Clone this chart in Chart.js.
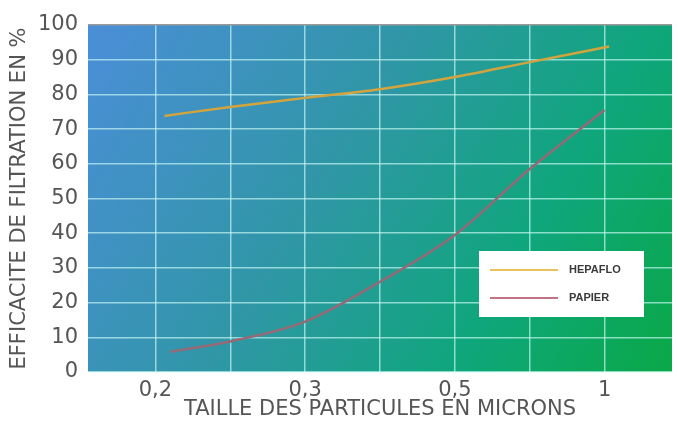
<!DOCTYPE html>
<html>
<head>
<meta charset="utf-8">
<script src="https://cdn.jsdelivr.net/npm/chart.js@4"></script>
<style>
  body { margin: 0; background: #fff; }
  #wrap { width: 678px; height: 425px; }
</style>
</head>
<body>
<div id="wrap"><canvas id="chart"></canvas></div>
<script>
// particle sizes shown on the x axis (evenly spaced, not to scale)
const sizeLabels = ['0,2', '0,3', '0,5', '1'];

// curves, x given as position along the size labels
const hepafloPos = [0.06, 0.5, 1.0, 1.5, 2.0, 2.5, 3.03];
const hepafloVals = [73.8, 76.4, 79, 81.5, 85, 89.3, 93.8];

const papierPos = [0.1, 0.5, 1.0, 1.5, 2.0, 2.5, 3.0];
const papierVals = [5.8, 8.8, 14.5, 26, 39.5, 58.5, 75.5];

const yTicks = [0, 10, 20, 30, 40, 50, 60, 70, 80, 90, 100];

const toPoints = (xs, ys) => xs.map((x, i) => ({ x: x, y: ys[i] }));

// gradient fill behind the plot
const bgPlugin = {
  id: 'bg',
  beforeDraw(chart) {
    const { ctx, chartArea: a } = chart;
    const g = ctx.createLinearGradient(a.left, a.top, a.right, a.bottom);
    g.addColorStop(0, '#4b8ed8');
    g.addColorStop(0.4, '#3196a8');
    g.addColorStop(0.72, '#0fa67c');
    g.addColorStop(1, '#0aa847');
    ctx.save();
    ctx.fillStyle = g;
    ctx.fillRect(a.left, a.top, a.right - a.left, a.bottom - a.top);
    ctx.restore();
  }
};

// white legend box inside the plot
const boxLegend = {
  id: 'boxLegend',
  afterDatasetsDraw(chart) {
    const { ctx, chartArea: a } = chart;
    const x = a.right - 193, y = a.top + 226, w = 165, h = 66;
    ctx.save();
    ctx.fillStyle = '#ffffff';
    ctx.fillRect(x, y, w, h);
    ctx.font = 'bold 11px "Liberation Sans", Arial, sans-serif';
    ctx.textBaseline = 'middle';
    chart.data.datasets.forEach((ds, i) => {
      const ly = y + 19 + i * 28;
      ctx.strokeStyle = ds.legendColor;
      ctx.lineWidth = 2;
      ctx.beginPath();
      ctx.moveTo(x + 11, ly);
      ctx.lineTo(x + 79, ly);
      ctx.stroke();
      ctx.fillStyle = '#3a3a3a';
      ctx.fillText(ds.label, x + 90, ly);
    });
    ctx.restore();
  }
};

const ctx = document.getElementById('chart').getContext('2d');
new Chart(ctx, {
  type: 'line',
  data: {
    datasets: [
      {
        label: 'HEPAFLO',
        data: toPoints(hepafloPos, hepafloVals),
        borderColor: '#d3a43e',
        legendColor: '#ecc25e',
        borderWidth: 2.5,
        pointRadius: 0,
        cubicInterpolationMode: 'monotone'
      },
      {
        label: 'PAPIER',
        data: toPoints(papierPos, papierVals),
        borderColor: '#956a76',
        legendColor: '#c27484',
        borderWidth: 2.5,
        pointRadius: 0,
        cubicInterpolationMode: 'monotone'
      }
    ]
  },
  options: {
    responsive: true,
    maintainAspectRatio: false,
    animation: false,
    layout: { padding: { top: 25, right: 6, left: 0, bottom: 0 } },
    plugins: {
      legend: { display: false },
      tooltip: { enabled: false }
    },
    scales: {
      x: {
        type: 'linear',
        min: -0.45,
        max: 3.45,
        afterFit: s => { s.height = 53; },
        afterBuildTicks: s => {
          const t = [];
          for (let v = 0; v <= sizeLabels.length - 1; v += 0.5) t.push({ value: v });
          s.ticks = t;
        },
        border: { display: false },
        grid: { color: 'rgba(205,252,248,0.65)', lineWidth: 1.5, drawTicks: false },
        ticks: {
          padding: 6,
          autoSkip: false,
          maxRotation: 0,
          color: '#555',
          font: { family: '"DejaVu Sans", sans-serif', size: 21 },
          callback: v => Number.isInteger(v) ? sizeLabels[v] : ''
        },
        title: {
          display: true,
          text: 'TAILLE DES PARTICULES EN MICRONS',
          color: '#555',
          font: { family: '"DejaVu Sans", sans-serif', size: 21 },
          padding: { top: 0, bottom: 3 }
        }
      },
      y: {
        min: 0,
        max: 100,
        afterFit: s => { s.width = 88; },
        afterBuildTicks: s => { s.ticks = yTicks.map(v => ({ value: v })); },
        border: { display: false },
        grid: {
          color: c => c.tick && c.tick.value === 100 ? '#9a9a9a' : 'rgba(205,252,248,0.65)',
          lineWidth: 1.5,
          drawTicks: false
        },
        ticks: {
          padding: 10,
          color: '#555',
          font: { family: '"DejaVu Sans", sans-serif', size: 21 }
        },
        title: {
          display: true,
          text: 'EFFICACITE DE FILTRATION EN %',
          color: '#555',
          font: { family: '"DejaVu Sans", sans-serif', size: 21 },
          padding: { top: 7, bottom: 0 }
        }
      }
    }
  },
  plugins: [bgPlugin, boxLegend]
});
</script>
</body>
</html>
